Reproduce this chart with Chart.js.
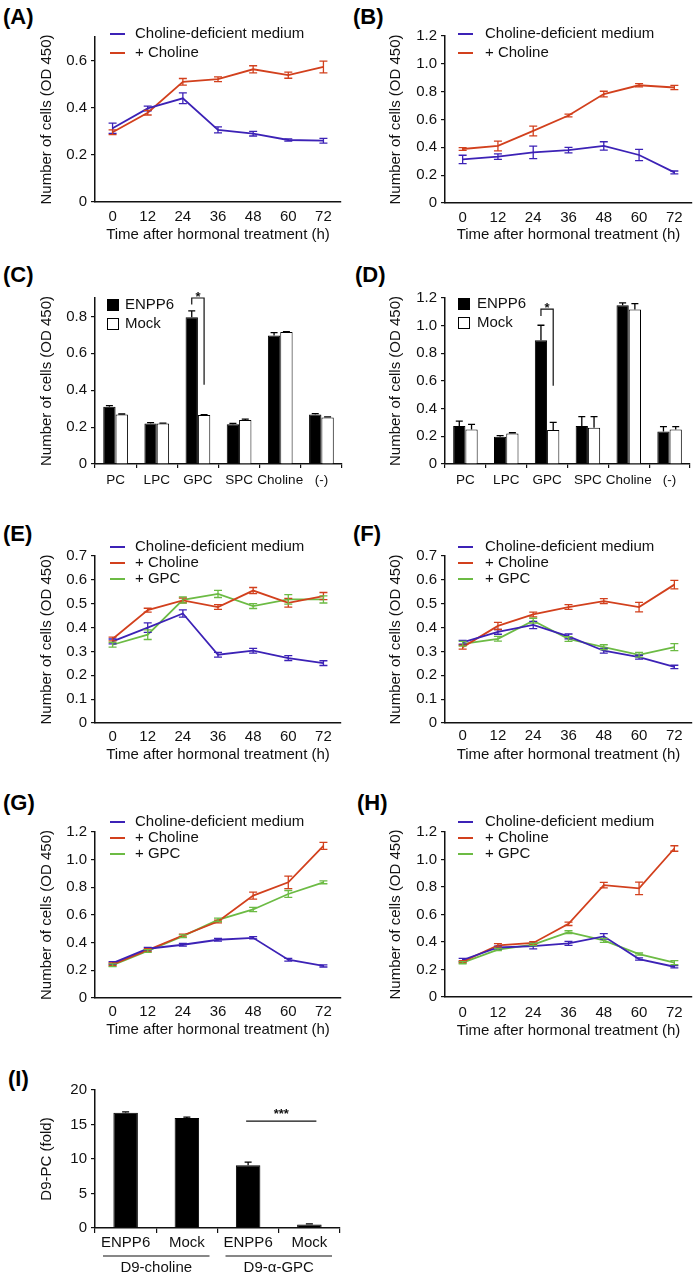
<!DOCTYPE html>
<html>
<head>
<meta charset="utf-8">
<script src="https://cdn.jsdelivr.net/npm/chart.js@4.4.0/dist/chart.umd.min.js"></script>
<style>
body{margin:0;background:#fff;width:697px;height:1277px;position:relative;overflow:hidden;font-family:'Liberation Sans',Arial,sans-serif}
canvas{position:absolute}
.lab{position:absolute;font-weight:bold;font-size:22px;line-height:22px;color:#000}
</style>
</head>
<body>
<div class="lab" style="left:3px;top:6px">(A)</div>
<div class="lab" style="left:353px;top:6px">(B)</div>
<div class="lab" style="left:3px;top:264px">(C)</div>
<div class="lab" style="left:355px;top:264px">(D)</div>
<div class="lab" style="left:3px;top:523px">(E)</div>
<div class="lab" style="left:353px;top:523px">(F)</div>
<div class="lab" style="left:3px;top:792px">(G)</div>
<div class="lab" style="left:357px;top:792px">(H)</div>
<div class="lab" style="left:8px;top:1068px">(I)</div>
<script>
// ---- data ----
const hours = ['0', '12', '24', '36', '48', '60', '72'];
const seriesNames = ['Choline-deficient medium', '+ Choline', '+ GPC'];
const lineColors = ['#3c22b6', '#d2401d', '#6cbb44'];

const aDef = [0.313, 0.397, 0.44, 0.306, 0.29, 0.263, 0.26];
const aDefErr = [0.022, 0.01, 0.023, 0.013, 0.01, 0.005, 0.01];
const aCho = [0.296, 0.379, 0.51, 0.521, 0.563, 0.538, 0.573];
const aChoErr = [0.01, 0.01, 0.014, 0.01, 0.015, 0.013, 0.025];

const bDef = [0.313, 0.333, 0.364, 0.38, 0.41, 0.345, 0.22];
const bDefErr = [0.03, 0.02, 0.045, 0.02, 0.03, 0.04, 0.01];
const bCho = [0.388, 0.41, 0.518, 0.629, 0.783, 0.846, 0.83];
const bChoErr = [0.01, 0.035, 0.035, 0.01, 0.02, 0.012, 0.015];

const barCats = ['PC', 'LPC', 'GPC', 'SPC', 'Choline', '(-)'];
const cEnpp6 = [0.31, 0.22, 0.796, 0.215, 0.697, 0.268];
const cEnpp6Err = [0.006, 0.004, 0.034, 0.005, 0.015, 0.005];
const cMock = [0.268, 0.22, 0.265, 0.238, 0.715, 0.252];
const cMockErr = [0.003, 0.002, 0.002, 0.005, 0.003, 0.003];

const dEnpp6 = [0.274, 0.197, 0.895, 0.274, 1.148, 0.235];
const dEnpp6Err = [0.036, 0.008, 0.108, 0.068, 0.017, 0.035];
const dMock = [0.25, 0.221, 0.245, 0.262, 1.117, 0.25];
const dMockErr = [0.036, 0.005, 0.056, 0.08, 0.043, 0.02];

const eDef = [0.342, 0.40, 0.459, 0.286, 0.303, 0.272, 0.251];
const eDefErr = [0.01, 0.02, 0.015, 0.01, 0.01, 0.01, 0.01];
const eCho = [0.352, 0.473, 0.514, 0.486, 0.555, 0.504, 0.532];
const eChoErr = [0.008, 0.008, 0.01, 0.01, 0.013, 0.018, 0.015];
const eGpc = [0.328, 0.37, 0.516, 0.541, 0.49, 0.518, 0.518];
const eGpcErr = [0.01, 0.02, 0.013, 0.015, 0.01, 0.02, 0.015];

const fDef = [0.338, 0.382, 0.411, 0.363, 0.303, 0.276, 0.235];
const fDefErr = [0.008, 0.01, 0.015, 0.01, 0.01, 0.008, 0.007];
const fCho = [0.318, 0.407, 0.455, 0.486, 0.511, 0.486, 0.58];
const fChoErr = [0.008, 0.015, 0.01, 0.01, 0.01, 0.02, 0.018];
const fGpc = [0.332, 0.353, 0.429, 0.352, 0.318, 0.286, 0.318];
const fGpcErr = [0.01, 0.01, 0.01, 0.01, 0.01, 0.01, 0.015];

const gDef = [0.252, 0.356, 0.385, 0.421, 0.435, 0.277, 0.232];
const gDefErr = [0.01, 0.01, 0.01, 0.01, 0.008, 0.01, 0.008];
const gCho = [0.243, 0.346, 0.452, 0.553, 0.74, 0.836, 1.10];
const gChoErr = [0.01, 0.01, 0.01, 0.01, 0.025, 0.045, 0.025];
const gGpc = [0.237, 0.34, 0.447, 0.565, 0.64, 0.752, 0.836];
const gGpcErr = [0.01, 0.01, 0.01, 0.012, 0.015, 0.025, 0.01];

const hDef = [0.269, 0.36, 0.37, 0.39, 0.441, 0.276, 0.22];
const hDefErr = [0.012, 0.01, 0.02, 0.015, 0.02, 0.008, 0.008];
const hCho = [0.257, 0.376, 0.393, 0.532, 0.813, 0.79, 1.08];
const hChoErr = [0.008, 0.012, 0.01, 0.012, 0.02, 0.045, 0.02];
const hGpc = [0.25, 0.345, 0.381, 0.472, 0.412, 0.312, 0.25];
const hGpcErr = [0.008, 0.008, 0.008, 0.01, 0.015, 0.008, 0.015];

const iCats = ['ENPP6', 'Mock', 'ENPP6', 'Mock'];
const iGroups = ['D9-choline', 'D9-α-GPC'];
const iValues = [16.7, 15.95, 9.1, 0.5];
const iErr = [0.12, 0.12, 0.45, 0.1];

const yTicksA = [0, 0.2, 0.4, 0.6];
const yTicks12 = [0, 0.2, 0.4, 0.6, 0.8, 1.0, 1.2];
const yTicksC = [0, 0.2, 0.4, 0.6, 0.8];
const yTicks07 = [0, 0.1, 0.2, 0.3, 0.4, 0.5, 0.6, 0.7];
const yTicksI = [0, 5, 10, 15, 20];

// ---- helpers ----
const FONT = "'Liberation Sans', Arial, sans-serif";
const FS = 15;
Chart.defaults.font.family = FONT;
Chart.defaults.color = '#111';

const errorBars = {
  id: 'errorBars',
  afterDatasetsDraw(chart) {
    const ctx = chart.ctx, y = chart.scales.y;
    const upOnly = chart.config.type === 'bar';
    ctx.save();
    chart.data.datasets.forEach((ds, i) => {
      if (!ds.errors) return;
      const meta = chart.getDatasetMeta(i);
      ctx.strokeStyle = upOnly ? '#000' : ds.borderColor;
      ctx.lineWidth = 1.3;
      const c = upOnly ? 3.5 : 4;
      meta.data.forEach((el, j) => {
        const v = ds.data[j], e = ds.errors[j];
        const top = y.getPixelForValue(v + e);
        const bot = y.getPixelForValue(upOnly ? v : v - e);
        ctx.beginPath();
        ctx.moveTo(el.x, top); ctx.lineTo(el.x, bot);
        ctx.moveTo(el.x - c, top); ctx.lineTo(el.x + c, top);
        if (!upOnly) { ctx.moveTo(el.x - c, bot); ctx.lineTo(el.x + c, bot); }
        ctx.stroke();
      });
    });
    ctx.restore();
  }
};

function legendPlugin(p, kind) {
  return {
    id: 'panelLegend',
    afterDraw(chart) {
      const ctx = chart.ctx;
      ctx.save();
      ctx.font = FS + 'px ' + FONT;
      ctx.textBaseline = 'middle';
      chart.data.datasets.forEach((ds, i) => {
        const y = p.legY + i * p.legDy - p.y;
        const x = p.legX - p.x;
        if (kind === 'line') {
          ctx.strokeStyle = ds.borderColor; ctx.lineWidth = 2;
          ctx.beginPath(); ctx.moveTo(x, y); ctx.lineTo(x + 15, y); ctx.stroke();
        } else {
          ctx.fillStyle = ds.backgroundColor;
          ctx.fillRect(x, y - 6, 12, 12);
          ctx.strokeStyle = '#000'; ctx.lineWidth = 1;
          ctx.strokeRect(x + 0.5, y - 5.5, 11, 11);
        }
        ctx.fillStyle = '#111';
        ctx.fillText(ds.label, p.legText - p.x, y);
      });
      ctx.restore();
    }
  };
}

function bracketPlugin(cat, top, leftEnd, rightEnd) {
  return {
    id: 'bracket',
    afterDraw(chart) {
      const y = chart.scales.y, ctx = chart.ctx;
      const x1 = chart.getDatasetMeta(0).data[cat].x;
      const x2 = chart.getDatasetMeta(1).data[cat].x;
      const yt = y.getPixelForValue(top);
      ctx.save();
      ctx.strokeStyle = '#111'; ctx.lineWidth = 1.2;
      ctx.beginPath();
      ctx.moveTo(x1, y.getPixelForValue(leftEnd)); ctx.lineTo(x1, yt);
      ctx.lineTo(x2, yt); ctx.lineTo(x2, y.getPixelForValue(rightEnd));
      ctx.stroke();
      ctx.fillStyle = '#111'; ctx.font = 'bold 13px ' + FONT;
      ctx.textAlign = 'center'; ctx.textBaseline = 'alphabetic';
      ctx.fillText('*', (x1 + x2) / 2, yt + 3);
      ctx.restore();
    }
  };
}

function fmt(v) { return v === 0 ? '0' : v.toFixed(1); }

function makeChart(p, type, labels, datasets, yMax, yTicks, yTitle, extra, tickFmt) {
  const cv = document.createElement('canvas');
  cv.width = p.w; cv.height = p.h;
  cv.style.left = p.x + 'px'; cv.style.top = p.y + 'px';
  document.body.appendChild(cv);
  const isLine = type === 'line';
  const xFont = p.xFont || FS;
  const tl = isLine ? 0 : (p.tickLen || 4);
  return new Chart(cv, {
    type: type,
    data: { labels: labels, datasets: datasets },
    options: {
      responsive: false,
      animation: false,
      layout: { padding: { top: p.t - p.y, right: p.x + p.w - p.r, left: 0, bottom: 0 } },
      plugins: { legend: { display: false }, tooltip: { enabled: false } },
      scales: {
        x: {
          offset: true,
          afterFit: s => { s.height = p.y + p.h - p.b; },
          border: { color: '#111', width: 1.5 },
          grid: { display: !isLine, drawOnChartArea: false, drawTicks: !isLine, tickLength: tl, color: '#111', lineWidth: 1.2, offset: true },
          ticks: { padding: p.tickY - p.b - tl - xFont * 0.6, color: '#111', font: { size: xFont }, maxRotation: 0, autoSkip: false },
          title: p.xTitleY
            ? { display: true, text: 'Time after hormonal treatment (h)', color: '#111', font: { size: FS },
                padding: { top: 0, bottom: p.y + p.h - p.xTitleY - FS * 0.6 } }
            : { display: false }
        },
        y: {
          min: 0,
          max: yMax,
          afterBuildTicks: s => { s.ticks = yTicks.map(v => ({ value: v })); },
          afterFit: s => { s.width = p.l - p.x; },
          border: { color: '#111', width: 1.5 },
          grid: { drawOnChartArea: false, tickLength: 4, color: '#111', lineWidth: 1.2 },
          ticks: { padding: 4, color: '#111', font: { size: FS }, callback: v => (tickFmt || fmt)(v) },
          title: { display: true, text: yTitle, color: '#111', font: { size: FS },
                   padding: { top: p.yTitleX - p.x - FS * 0.6, bottom: 0 } }
        }
      }
    },
    plugins: [errorBars].concat(extra || [])
  });
}

function lineSets(vals, errs) {
  return vals.map((v, i) => ({
    label: seriesNames[i], data: v, errors: errs[i],
    borderColor: lineColors[i], backgroundColor: lineColors[i],
    borderWidth: 1.8, pointRadius: 0, tension: 0, fill: false
  }));
}

function barSets(enpp6, enpp6Err, mock, mockErr) {
  return [
    { label: 'ENPP6', data: enpp6, errors: enpp6Err, backgroundColor: '#000', borderColor: '#000', borderWidth: 1,
      categoryPercentage: 0.6, barPercentage: 1.0 },
    { label: 'Mock', data: mock, errors: mockErr, backgroundColor: '#fff', borderColor: '#000', borderWidth: 1,
      categoryPercentage: 0.6, barPercentage: 1.0 }
  ];
}

const yLab = 'Number of cells (OD 450)';

// ---- panels ----
const pA = { x: 0, y: 0, w: 345, h: 250, l: 95, r: 341, t: 37, b: 202, yTitleX: 47, xTitleY: 235, tickY: 217, legX: 110, legText: 135, legY: 34, legDy: 19 };
makeChart(pA, 'line', hours, lineSets([aDef, aCho], [aDefErr, aChoErr]), 0.7, yTicksA, yLab, [legendPlugin(pA, 'line')]);

const pB = { x: 345, y: 0, w: 352, h: 250, l: 445, r: 692, t: 36, b: 203, yTitleX: 396, xTitleY: 235, tickY: 218, legX: 458, legText: 485, legY: 34, legDy: 19 };
makeChart(pB, 'line', hours, lineSets([bDef, bCho], [bDefErr, bChoErr]), 1.2, yTicks12, yLab, [legendPlugin(pB, 'line')]);

const pC = { x: 0, y: 250, w: 345, h: 260, l: 95, r: 342, t: 298, b: 464, yTitleX: 47, tickY: 480, xFont: 13.5, legX: 107, legText: 125, legY: 305, legDy: 19 };
makeChart(pC, 'bar', barCats, barSets(cEnpp6, cEnpp6Err, cMock, cMockErr), 0.9, yTicksC, yLab,
  [legendPlugin(pC, 'box'), bracketPlugin(2, 0.9, 0.865, 0.43)]);

const pD = { x: 345, y: 250, w: 352, h: 260, l: 445, r: 690, t: 298, b: 464, yTitleX: 396, tickY: 480, xFont: 13.5, legX: 458, legText: 477, legY: 304, legDy: 19 };
makeChart(pD, 'bar', barCats, barSets(dEnpp6, dEnpp6Err, dMock, dMockErr), 1.2, yTicks12, yLab,
  [legendPlugin(pD, 'box'), bracketPlugin(2, 1.12, 1.07, 0.565)]);

const pE = { x: 0, y: 510, w: 345, h: 260, l: 95, r: 341, t: 556, b: 723, yTitleX: 47, xTitleY: 755, tickY: 737, legX: 110, legText: 135, legY: 547, legDy: 16 };
makeChart(pE, 'line', hours, lineSets([eDef, eCho, eGpc], [eDefErr, eChoErr, eGpcErr]), 0.7, yTicks07, yLab, [legendPlugin(pE, 'line')]);

const pF = { x: 345, y: 510, w: 352, h: 260, l: 445, r: 692, t: 556, b: 723, yTitleX: 396, xTitleY: 755, tickY: 736, legX: 458, legText: 485, legY: 547, legDy: 16 };
makeChart(pF, 'line', hours, lineSets([fDef, fCho, fGpc], [fDefErr, fChoErr, fGpcErr]), 0.7, yTicks07, yLab, [legendPlugin(pF, 'line')]);

const pG = { x: 0, y: 770, w: 345, h: 270, l: 95, r: 341, t: 832, b: 998, yTitleX: 47, xTitleY: 1030, tickY: 1012, legX: 110, legText: 135, legY: 822, legDy: 16 };
makeChart(pG, 'line', hours, lineSets([gDef, gCho, gGpc], [gDefErr, gChoErr, gGpcErr]), 1.2, yTicks12, yLab, [legendPlugin(pG, 'line')]);

const pH = { x: 345, y: 770, w: 352, h: 270, l: 445, r: 692, t: 832, b: 997, yTitleX: 396, xTitleY: 1031, tickY: 1013, legX: 458, legText: 485, legY: 822, legDy: 16 };
makeChart(pH, 'line', hours, lineSets([hDef, hCho, hGpc], [hDefErr, hChoErr, hGpcErr]), 1.2, yTicks12, yLab, [legendPlugin(pH, 'line')]);

// (I) with group labels and significance line
const pI = { x: 0, y: 1040, w: 345, h: 237, l: 95, r: 340, t: 1090, b: 1228, yTitleX: 47, tickY: 1243, tickLen: 5 };
const iExtra = {
  id: 'groups',
  afterDraw(chart) {
    const ctx = chart.ctx, xs = chart.scales.x, ys = chart.scales.y;
    const cw = xs.getPixelForValue(1) - xs.getPixelForValue(0);
    ctx.save();
    ctx.strokeStyle = '#111'; ctx.lineWidth = 1.2; ctx.fillStyle = '#111';
    ctx.font = FS + 'px ' + FONT; ctx.textAlign = 'center'; ctx.textBaseline = 'middle';
    iGroups.forEach((g, k) => {
      const a = xs.getPixelForValue(2 * k), b = xs.getPixelForValue(2 * k + 1);
      const lineY = 1256 - pI.y;
      ctx.beginPath();
      ctx.moveTo(a - cw / 2 + 8, lineY); ctx.lineTo(b + cw / 2 - 8, lineY);
      ctx.stroke();
      ctx.fillText(g, (a + b) / 2, 1268 - pI.y);
    });
    const sy = ys.getPixelForValue(15.5);
    const x1 = xs.getPixelForValue(2) - 2, x2 = xs.getPixelForValue(3) + 7;
    ctx.beginPath(); ctx.moveTo(x1, sy); ctx.lineTo(x2, sy); ctx.stroke();
    ctx.font = 'bold 13px ' + FONT; ctx.textBaseline = 'alphabetic';
    ctx.fillText('***', (x1 + x2) / 2, sy - 3);
    ctx.restore();
  }
};
makeChart(pI, 'bar', iCats,
  [{ label: 'D9-PC', data: iValues, errors: iErr, backgroundColor: '#000', borderColor: '#000', borderWidth: 1,
     categoryPercentage: 0.8, barPercentage: 0.5 }],
  20, yTicksI, 'D9-PC (fold)', [iExtra], v => String(v));
</script>
</body>
</html>
